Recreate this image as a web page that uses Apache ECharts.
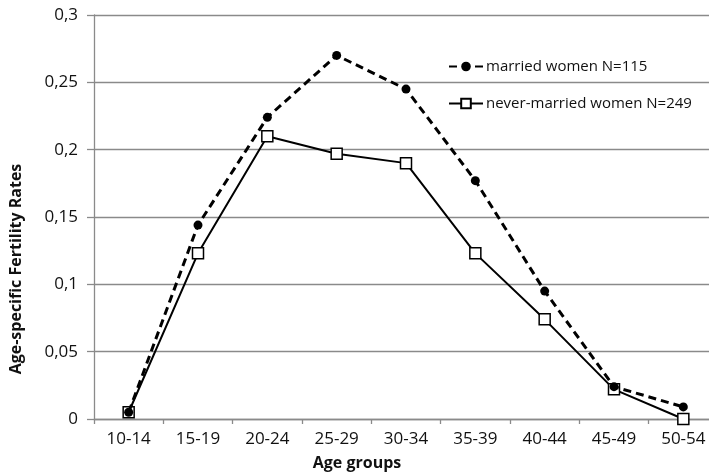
<!DOCTYPE html>
<html>
<head>
<meta charset="utf-8">
<script src="https://cdn.jsdelivr.net/npm/echarts@6/dist/echarts.min.js"></script>
<style>html,body{margin:0;padding:0;background:#fff;}#c{width:709px;height:476px;}</style>
</head>
<body>
<div id="c"></div>
<script>
var categories = ['10-14','15-19','20-24','25-29','30-34','35-39','40-44','45-49','50-54'];
var married = [0.005, 0.144, 0.224, 0.270, 0.245, 0.177, 0.095, 0.024, 0.009];
var neverMarried = [0.005, 0.123, 0.210, 0.197, 0.190, 0.123, 0.074, 0.022, 0.000];
var seriesNames = ['married women N=115', 'never-married women N=249'];
var yTicks = {min: 0, max: 0.3, interval: 0.05};

var chart = echarts.init(document.getElementById('c'), null, {renderer: 'canvas'});
var font = '"Open Sans", "Noto Sans", sans-serif';
chart.setOption({
  animation: false,
  backgroundColor: '#fff',
  textStyle: {fontFamily: font},
  grid: {left: 94, top: 15, width: 624, height: 404, containLabel: false, outerBoundsMode: 'none'},
  legend: {
    orient: 'vertical', left: 448, top: 59, padding: 0,
    itemWidth: 34, itemHeight: 12, itemGap: 22,
    textStyle: {fontSize: 15, color: '#111', fontFamily: font, padding: [0,0,0,-2]},
    data: seriesNames
  },
  xAxis: {
    type: 'category', data: categories, boundaryGap: true,
    name: 'Age groups', nameLocation: 'middle', nameGap: 36,
    nameTextStyle: {fontSize: 16, fontWeight: 'bold', color: '#111', fontFamily: font, padding: [0, 98, 0, 0]},
    axisLine: {lineStyle: {color: '#8a8a8a', width: 1.3}},
    axisTick: {show: true, length: 5, inside: false, alignWithLabel: false, lineStyle: {color: '#8a8a8a', width: 1.3}},
    axisLabel: {fontSize: 17, color: '#111', margin: 12, fontFamily: font, interval: 0},
    splitLine: {show: false}
  },
  yAxis: {
    type: 'value', min: yTicks.min, max: yTicks.max, interval: yTicks.interval,
    name: 'Age-specific Fertility Rates', nameLocation: 'middle', nameGap: 70,
    nameTextStyle: {fontSize: 16, fontWeight: 'bold', color: '#111', fontFamily: font, padding: [0, 104, 0, 0]},
    axisLine: {show: true, lineStyle: {color: '#8a8a8a', width: 1.3}},
    axisTick: {show: true, length: 7, lineStyle: {color: '#8a8a8a', width: 1.3}},
    axisLabel: {fontSize: 17, color: '#111', margin: 16, fontFamily: font,
      formatter: function (v) { return String(+v.toFixed(2)).replace('.', ','); }},
    splitLine: {show: true, lineStyle: {color: '#8a8a8a', width: 1.3}}
  },
  series: [
    {
      name: seriesNames[1], type: 'line', data: neverMarried,
      symbol: 'rect', symbolSize: 11, showSymbol: true,
      lineStyle: {color: '#000', width: 2, type: 'solid'},
      itemStyle: {color: '#fff', borderColor: '#000', borderWidth: 1.5},
      z: 2
    },
    {
      name: seriesNames[0], type: 'line', data: married,
      symbol: 'circle', symbolSize: 9, showSymbol: true,
      lineStyle: {color: '#000', width: 3, type: [8, 5]},
      itemStyle: {color: '#000', borderColor: '#000', borderWidth: 0},
      z: 3
    }
  ]
});
</script>
</body>
</html>
